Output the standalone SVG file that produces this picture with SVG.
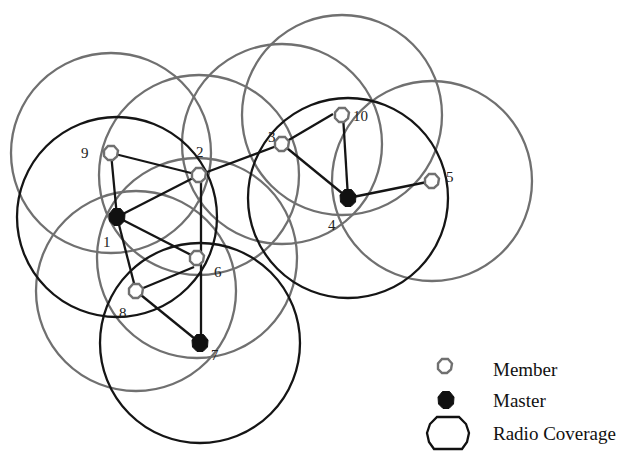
<svg xmlns="http://www.w3.org/2000/svg" width="620" height="455" viewBox="0 0 620 455">
<style>
.cov{fill:none;stroke-width:2.3}
.cm{stroke:#707070}
.cM{stroke:#151515}
.edge{stroke:#151515;stroke-width:2.3;fill:none}
.mem{fill:#fff;stroke:#707070;stroke-width:2.4}
.mas{fill:#111;stroke:#111;stroke-width:1}
.lbl{font-family:"Liberation Serif","Times New Roman",serif;font-size:15px;fill:#222}
.leg{font-family:"Liberation Serif","Times New Roman",serif;font-size:19px;fill:#111}
</style>
<defs>
<polygon id="oct" points="3,-7 7,-2.5 6,3.5 2,7 -3,7 -7,3 -7,-2.5 -3,-7"/>
<polygon id="octM" points="3.5,-8.5 8,-3 7.5,4 3,8.5 -3,8.5 -7.5,4 -8,-3 -3.5,-8.5"/>
</defs>
<g id="coverage">
<circle class="cov cm" cx="111" cy="153" r="100"/>
<circle class="cov cm" cx="199" cy="175" r="100"/>
<circle class="cov cm" cx="197" cy="258" r="100"/>
<circle class="cov cm" cx="136" cy="291" r="100"/>
<circle class="cov cm" cx="282" cy="144" r="100"/>
<circle class="cov cm" cx="342" cy="115" r="100"/>
<circle class="cov cm" cx="432" cy="181" r="100"/>
<circle class="cov cM" cx="117" cy="217" r="100"/>
<circle class="cov cM" cx="200" cy="343" r="100"/>
<circle class="cov cM" cx="348" cy="198" r="100"/>
</g>
<g id="connectors">
<line class="edge" x1="111" y1="153" x2="199" y2="175"/>
<line class="edge" x1="111" y1="153" x2="117" y2="217"/>
<line class="edge" x1="117" y1="217" x2="199" y2="175"/>
<line class="edge" x1="199" y1="175" x2="282" y2="144"/>
<line class="edge" x1="201" y1="175" x2="201" y2="343"/>
<line class="edge" x1="117" y1="217" x2="197" y2="258"/>
<line class="edge" x1="117" y1="217" x2="136" y2="291"/>
<line class="edge" x1="136" y1="291" x2="194" y2="267"/>
<line class="edge" x1="136" y1="291" x2="200" y2="343"/>
<line class="edge" x1="282" y1="144" x2="333" y2="114"/>
<line class="edge" x1="282" y1="144" x2="348" y2="198"/>
<line class="edge" x1="343" y1="115" x2="348" y2="198"/>
<line class="edge" x1="348" y1="198" x2="432" y2="181"/>
</g>
<g id="n9"><use href="#oct" class="mem" x="111" y="153"/><text class="lbl" x="81" y="158">9</text></g>
<g id="n2"><use href="#oct" class="mem" x="199" y="175"/><text class="lbl" x="196" y="157">2</text></g>
<g id="n1"><use href="#octM" class="mas" x="117" y="217"/><text class="lbl" x="103" y="247">1</text></g>
<g id="n6"><use href="#oct" class="mem" x="197" y="258"/><text class="lbl" x="214" y="277">6</text></g>
<g id="n8"><use href="#oct" class="mem" x="136" y="291"/><text class="lbl" x="119" y="318">8</text></g>
<g id="n7"><use href="#octM" class="mas" x="200" y="343"/><text class="lbl" x="211" y="360">7</text></g>
<g id="n3"><use href="#oct" class="mem" x="282" y="144"/><text class="lbl" x="268" y="142">3</text></g>
<g id="n10"><use href="#oct" class="mem" x="342" y="115"/><text class="lbl" x="353" y="121">10</text></g>
<g id="n4"><use href="#octM" class="mas" x="348" y="198"/><text class="lbl" x="328" y="230">4</text></g>
<g id="n5"><use href="#oct" class="mem" x="432" y="181"/><text class="lbl" x="446" y="182">5</text></g>
<g id="legend">
<use href="#oct" class="mem" x="445" y="366"/>
<text class="leg" x="493" y="376">Member</text>
<use href="#octM" class="mas" x="446" y="400"/>
<text class="leg" x="493" y="407">Master</text>
<polygon points="437,417 459,417 466,424 469,433 467,442 462,449 434,449 429,442 427,433 430,424" fill="none" stroke="#111" stroke-width="2.3"/>
<text class="leg" x="493" y="440">Radio Coverage</text>
</g>
</svg>
